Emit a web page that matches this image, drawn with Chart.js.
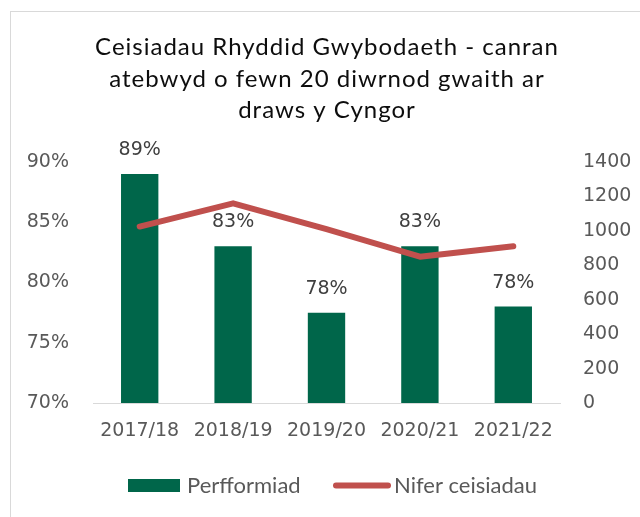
<!DOCTYPE html>
<html>
<head>
<meta charset="utf-8">
<script src="https://cdn.jsdelivr.net/npm/chart.js@4/dist/chart.umd.min.js"></script>
<style>
    html, body { margin: 0; padding: 0; background: #fff; }
    #wrap { position: relative; width: 640px; height: 517px; overflow: hidden; }
    #frame { position: absolute; left: 10px; top: 11px; width: 700px; height: 600px; border: 1px solid #d9d9d9; pointer-events: none; }
    #chart { position: absolute; left: 0; top: 0; }
</style>
</head>
<body>
<div id="wrap">
    <canvas id="chart" width="640" height="517"></canvas>
    <div id="frame"></div>
</div>
<script>
'use strict';

var years = ['2017/18', '2018/19', '2019/20', '2020/21', '2021/22'];
var perfformiad = [89, 83, 77.5, 83, 78];          // % answered within 20 working days
var niferCeisiadau = [1025, 1160, 1010, 850, 910]; // number of requests

var titleLines = ['Ceisiadau Rhyddid Gwybodaeth - canran', 'atebwyd o fewn 20 diwrnod gwaith ar', 'draws y Cyngor'];

var GREEN = '#00664a';
var RED = '#c0504d';
var GREY = '#595959';

// three line title over the plot
var chartTitle = {
    id: 'chartTitle',
    afterDraw: function(chart){
        var ctx = chart.ctx;
        ctx.save();
        ctx.font = '24px Lato';
        ctx.letterSpacing = '1px';
        ctx.fillStyle = '#0d0d0d';
        ctx.textAlign = 'center';
        ctx.textBaseline = 'alphabetic';
        titleLines.forEach(function(line, i){
            ctx.fillText(line, 327, 55 + i * 31.5);
        });
        ctx.restore();
    }
};

// percentage labels above each bar
var barLabels = {
    id: 'barLabels',
    afterDatasetsDraw: function(chart){
        var ctx = chart.ctx;
        var meta = chart.getDatasetMeta(0);
        ctx.save();
        ctx.font = '19px "DejaVu Sans"';
        ctx.fillStyle = '#404040';
        ctx.textAlign = 'center';
        ctx.textBaseline = 'alphabetic';
        meta.data.forEach(function(bar, i){
            ctx.fillText(Math.round(perfformiad[i]) + '%', bar.x, bar.y - 19);
        });
        ctx.restore();
    }
};

// legend under the axis: green box for the bars, thick red stroke for the line
var bottomLegend = {
    id: 'bottomLegend',
    afterDraw: function(chart){
        var ctx = chart.ctx;
        var ds = chart.data.datasets;
        var y = 485.5;
        ctx.save();
        ctx.font = '22px Lato';
        ctx.textBaseline = 'middle';
        ctx.textAlign = 'left';

        ctx.fillStyle = ds[0].backgroundColor;
        ctx.fillRect(128, y - 6.5, 52, 13);
        ctx.fillStyle = GREY;
        ctx.fillText(ds[0].label, 187, y);

        ctx.strokeStyle = ds[1].borderColor;
        ctx.lineWidth = 6;
        ctx.lineCap = 'round';
        ctx.beginPath();
        ctx.moveTo(336, y);
        ctx.lineTo(388, y);
        ctx.stroke();
        ctx.fillText(ds[1].label, 394, y);
        ctx.restore();
    }
};

new Chart(document.getElementById('chart').getContext('2d'), {
    type: 'bar',
    data: {
        labels: years,
        datasets: [
            {
                label: 'Perfformiad',
                data: perfformiad,
                backgroundColor: GREEN,
                borderWidth: 0,
                yAxisID: 'y',
                order: 2,
                categoryPercentage: 1,
                barPercentage: 0.4
            },
            {
                type: 'line',
                label: 'Nifer ceisiadau',
                data: niferCeisiadau,
                borderColor: RED,
                backgroundColor: RED,
                borderWidth: 6,
                borderCapStyle: 'round',
                borderJoinStyle: 'round',
                pointRadius: 0,
                tension: 0,
                yAxisID: 'y1',
                order: 1
            }
        ]
    },
    options: {
        responsive: false,
        animation: false,
        layout: { padding: { left: 0, right: 0, top: 162, bottom: 74 } },
        plugins: {
            title: { display: false },
            legend: { display: false },
            tooltip: { enabled: false }
        },
        scales: {
            x: {
                grid: { display: false },
                border: { display: true, color: '#d9d9d9', width: 1 },
                ticks: { color: GREY, font: { family: 'DejaVu Sans', size: 19 }, padding: 9, maxRotation: 0 },
                afterFit: function(scale){ scale.height = 40; }
            },
            y: {
                position: 'left',
                min: 70,
                max: 90,
                grid: { display: false, drawTicks: false },
                border: { display: false },
                ticks: {
                    stepSize: 5,
                    padding: 24,
                    color: GREY,
                    font: { family: 'DejaVu Sans', size: 19 },
                    callback: function(v){ return v + '%'; }
                },
                afterFit: function(scale){ scale.width = 93; }
            },
            y1: {
                position: 'right',
                min: 0,
                max: 1400,
                grid: { display: false, drawTicks: false },
                border: { display: false },
                ticks: {
                    stepSize: 200,
                    padding: 23,
                    color: GREY,
                    font: { family: 'DejaVu Sans', size: 19 },
                    callback: function(v){ return String(v); }
                },
                afterFit: function(scale){ scale.width = 80; }
            }
        }
    },
    plugins: [barLabels, chartTitle, bottomLegend]
});
</script>
</body>
</html>
